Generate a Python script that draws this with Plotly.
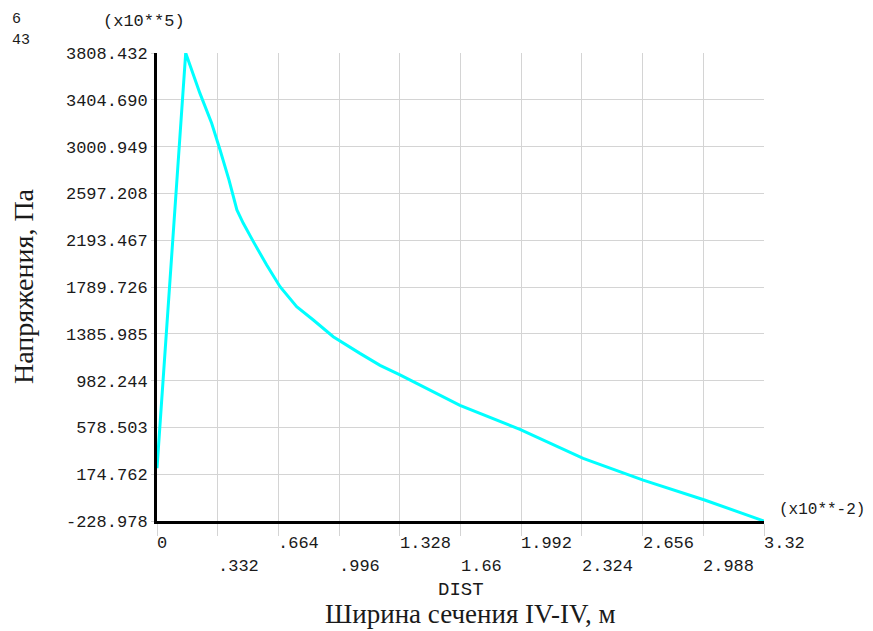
import plotly.graph_objects as go

# --- data ---
dist = [0, 0.157, 0.235, 0.299, 0.345, 0.394, 0.437, 0.472, 0.527, 0.600, 0.673,
        0.764, 0.855, 0.964, 1.110, 1.220, 1.329, 1.657, 1.985, 2.331, 2.659, 2.995, 3.32]
stress = [226, 3808.432, 3460, 3202, 2971, 2712, 2454, 2339, 2181, 1979, 1792,
          1619, 1505, 1361, 1217, 1114, 1032, 769, 561, 311, 124, -48, -228.978]

x_ticks = [0, 0.332, 0.664, 0.996, 1.328, 1.66, 1.992, 2.324, 2.656, 2.988, 3.32]
x_ticktext = ["0", ".332", ".664", ".996", "1.328", "1.66", "1.992", "2.324", "2.656", "2.988", "3.32"]
y_ticks = [-228.978, 174.762, 578.503, 982.244, 1385.985, 1789.726, 2193.467,
           2597.208, 3000.949, 3404.690, 3808.432]
y_ticktext = ["-228.978", "174.762", "578.503", "982.244", "1385.985", "1789.726",
              "2193.467", "2597.208", "3000.949", "3404.690", "3808.432"]

MONO = "Liberation Mono, Courier New, monospace"
SERIF = "Liberation Serif, Times New Roman, serif"
GRID = "#d4d4d4"
TXT = "#1a1a1a"

PAGE = 8            # browser body margin
L, T, W, H = 157, 53, 607, 468  # plot area in screen pixels
FW, FH = 873 - PAGE, 631 - PAGE

fig = go.Figure()
fig.add_trace(go.Scatter(x=dist, y=stress, mode="lines",
                         line=dict(color="#00FFFF", width=3), showlegend=False,
                         hoverinfo="x+y"))

fig.update_layout(
    width=FW, height=FH,
    margin=dict(l=L - PAGE, r=FW - (L - PAGE) - W, t=T - PAGE, b=FH - (T - PAGE) - H, pad=0),
    paper_bgcolor="white", plot_bgcolor="white",
    xaxis=dict(range=[0, 3.32], tickvals=x_ticks, showticklabels=False,
               ticks="outside", ticklen=12, tickcolor=GRID, tickwidth=1,
               showgrid=True, gridcolor=GRID, gridwidth=1,
               showline=True, linecolor="black", linewidth=3, zeroline=False),
    yaxis=dict(range=[-228.978, 3808.432], tickvals=y_ticks, ticktext=y_ticktext,
               ticks="outside", ticklen=3, tickcolor=GRID, tickwidth=1,
               tickfont=dict(family=MONO, size=17, color=TXT),
               showgrid=True, gridcolor=GRID, gridwidth=1,
               showline=True, linecolor="black", linewidth=3, zeroline=False),
)

ann = []
# x tick labels, staggered in two rows, left aligned at the tick
for i, (v, t) in enumerate(zip(x_ticks, x_ticktext)):
    ann.append(dict(x=v, xref="x", y=0, yref="paper", text=t, showarrow=False,
                    xanchor="left", yanchor="middle", xshift=-2,
                    yshift=-22 if i % 2 == 0 else -45,
                    font=dict(family=MONO, size=17, color=TXT)))


def pix(text, xp, yp, size, family, xanchor="center", angle=0):
    # xp, yp are screen pixel positions
    return dict(x=0, xref="paper", y=1, yref="paper", text=text, showarrow=False,
                xanchor=xanchor, yanchor="middle", xshift=xp - L, yshift=T - yp,
                textangle=angle, font=dict(family=family, size=size, color=TXT))


ann.append(pix("6", 10, 19, 15, MONO, xanchor="left"))
ann.append(pix("43", 10, 40, 15, MONO, xanchor="left"))
ann.append(pix("(x10**5)", 144, 21, 17, MONO))
ann.append(pix("(x10**-2)", 777, 510, 16, MONO, xanchor="left"))
ann.append(pix("DIST", 461, 590, 19, MONO))
ann.append(pix("Ширина сечения IV-IV, м", 470, 614, 27, SERIF))
ann.append(pix("Напряжения, Па", 23, 286, 28, SERIF, angle=-90))
fig.update_layout(annotations=ann)

fig.write_html("out.html")
